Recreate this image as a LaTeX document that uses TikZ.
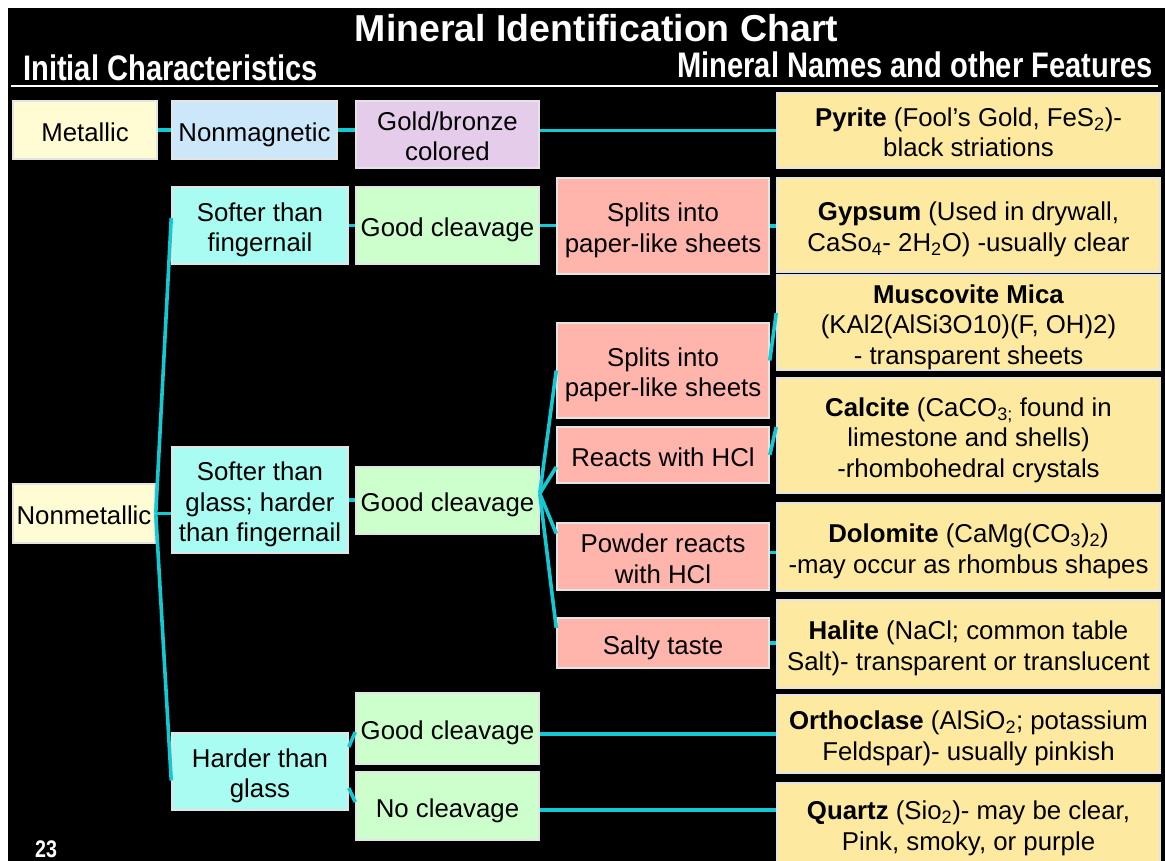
\documentclass[tikz,border=0pt]{standalone}
\usepackage{fontspec}
\setmainfont{Liberation Sans}
\newfontfamily\hdrfont{Liberation Sans}[FakeStretch=0.82]
\definecolor{cMetal}{HTML}{FFFBD2}
\definecolor{cBlue}{HTML}{CCE6FA}
\definecolor{cPurple}{HTML}{E6CCEB}
\definecolor{cCyan}{HTML}{A8FCF2}
\definecolor{cGreen}{HTML}{CCFFCC}
\definecolor{cPink}{HTML}{FFB4AC}
\definecolor{cGold}{HTML}{FDEAA0}
\definecolor{cLine}{HTML}{12CAD4}
\definecolor{cEdge}{HTML}{E4E4E4}
\newcommand\topstrut{\rule{0pt}{27.5pt}}
\newcommand\botstrut{\rule[-5pt]{0pt}{5pt}}
\begin{document}
\begin{tikzpicture}[x=1pt,y=-1pt,
  bx/.style={draw=cEdge, line width=1.5pt, inner sep=0pt, align=center, text=black,
     font=\fontsize{25.8}{30.5}\selectfont},
  conn/.style={draw=cLine, line width=3.6pt},
  hdr/.style={text=white, inner sep=0pt, font=\hdrfont\bfseries\fontsize{35.5}{36}\selectfont}]
\useasboundingbox (0,0) rectangle (1165,861);
\clip (0,0) rectangle (1165,861);
\fill[white] (0,0) rectangle (1165,861);
\fill[black] (8,8) rectangle (1165,861);
% titles
\node[text=white, inner sep=0pt, anchor=base, font=\bfseries\fontsize{37.5}{40}\selectfont] (title) at (596.5,42) {Mineral Identification Chart};
\node[hdr, anchor=base west] (hleft) at (23,81) {Initial Characteristics};
\node[hdr, anchor=base east] (hright) at (1153,78) {Mineral Names and other Features};
\draw[white, line width=2.5pt] (11,86) -- (1158,86);
\node[text=white, inner sep=0pt, anchor=base west, font=\hdrfont\bfseries\fontsize{24}{24}\selectfont] (pg) at (35,857) {23};
% column 1
\node[bx, fill=cMetal, minimum width=144pt, minimum height=58pt] (met) at (85,130) {\topstrut Metallic\botstrut};
\node[bx, fill=cMetal, minimum width=142pt, minimum height=59pt] (nmet) at (84,513.5) {\topstrut Nonmetallic\botstrut};
% column 2
\node[bx, fill=cBlue, minimum width=165pt, minimum height=58pt] (nmag) at (254.5,130) {\topstrut Nonmagnetic\botstrut};
\node[bx, fill=cCyan, minimum width=176pt, minimum height=77pt] (snail) at (260,225.5) {\topstrut Softer than\\fingernail\botstrut};
\node[bx, fill=cCyan, minimum width=176pt, minimum height=106pt] (sglass) at (260,500) {\topstrut Softer than\\glass; harder\\than fingernail\botstrut};
\node[bx, fill=cCyan, minimum width=176pt, minimum height=77pt] (hard) at (260,771.5) {\topstrut Harder than\\glass\botstrut};
% column 3
\node[bx, fill=cPurple, minimum width=183pt, minimum height=67pt] (gold) at (447.5,134.5) {\topstrut Gold/bronze\\colored\botstrut};
\node[bx, fill=cGreen, minimum width=183pt, minimum height=77pt] (gc1) at (447.5,225.5) {\topstrut Good cleavage\botstrut};
\node[bx, fill=cGreen, minimum width=183pt, minimum height=67pt] (gc2) at (447.5,500.5) {\topstrut Good cleavage\botstrut};
\node[bx, fill=cGreen, minimum width=183pt, minimum height=71pt] (gc3) at (447.5,728.5) {\topstrut Good cleavage\botstrut};
\node[bx, fill=cGreen, minimum width=183pt, minimum height=68pt] (noc) at (447.5,806) {\topstrut No cleavage\botstrut};
% column 4
\node[bx, fill=cPink, minimum width=212pt, minimum height=96pt] (sp1) at (663,226) {\topstrut Splits into\\paper-like sheets\botstrut};
\node[bx, fill=cPink, minimum width=212pt, minimum height=95pt] (sp2) at (663,370.5) {\topstrut Splits into\\paper-like sheets\botstrut};
\node[bx, fill=cPink, minimum width=212pt, minimum height=56pt] (rea) at (663,455) {\topstrut Reacts with HCl\botstrut};
\node[bx, fill=cPink, minimum width=212pt, minimum height=67pt] (pow) at (663,556.5) {\topstrut Powder reacts\\with HCl\botstrut};
\node[bx, fill=cPink, minimum width=212pt, minimum height=50pt] (salt) at (663,643) {\topstrut Salty taste\botstrut};
% column 5
\node[bx, fill=cGold, minimum width=383pt, minimum height=75pt] (pyr) at (968.5,130.5) {\topstrut\textbf{Pyrite} (Fool’s Gold, FeS\textsubscript{2})-\\black striations\botstrut};
\node[bx, fill=cGold, minimum width=383pt, minimum height=94pt] (gyp) at (968.5,225) {\topstrut\textbf{Gypsum} (Used in drywall,\\CaSo\textsubscript{4}- 2H\textsubscript{2}O) -usually clear\botstrut};
\node[bx, fill=cGold, minimum width=383pt, minimum height=95pt] (mus) at (968.5,322.5) {\topstrut\textbf{Muscovite Mica}\\(KAl2(AlSi3O10)(F, OH)2)\\- transparent sheets\botstrut};
\node[bx, fill=cGold, minimum width=383pt, minimum height=115pt] (cal) at (968.5,435.5) {\topstrut\textbf{Calcite} (CaCO\textsubscript{3;} found in\\limestone and shells)\\-rhombohedral crystals\botstrut};
\node[bx, fill=cGold, minimum width=383pt, minimum height=88pt] (dol) at (968.5,547) {\topstrut\textbf{Dolomite} (CaMg(CO\textsubscript{3})\textsubscript{2})\\-may occur as rhombus shapes\botstrut};
\node[bx, fill=cGold, minimum width=383pt, minimum height=88pt] (hal) at (968.5,644) {\topstrut\textbf{Halite} (NaCl; common table\\Salt)- transparent or translucent\botstrut};
\node[bx, fill=cGold, minimum width=383pt, minimum height=78pt] (ort) at (968.5,734) {\topstrut\textbf{Orthoclase} (AlSiO\textsubscript{2}; potassium\\Feldspar)- usually pinkish\botstrut};
\node[bx, fill=cGold, minimum width=383pt, minimum height=82pt] (qtz) at (968.5,824) {\topstrut\textbf{Quartz} (Sio\textsubscript{2})- may be clear,\\Pink, smoky, or purple\botstrut};
% connectors
\coordinate (hub) at ([yshift=7pt]gc2.east);
\draw[conn] (met.east) -- (nmag.west);
\draw[conn] (nmag.east) -- (nmag.east -| gold.west);
\draw[conn] (pyr.west -| gold.east) -- (pyr.west);
\draw[conn] (nmet.east) -- ([yshift=7.5pt]snail.west);
\draw[conn] (nmet.east) -- (nmet.east -| sglass.west);
\draw[conn] (nmet.east) -- ([yshift=-9pt]hard.west);
\draw[conn] (snail.east) -- (gc1.west);
\draw[conn] (gc1.east) -- (gc1.east -| sp1.west);
\draw[conn] (sp1.east) -- (sp1.east -| gyp.west);
\draw[conn] (sglass.east) -- (sglass.east -| gc2.west);
\draw[conn] (hub) -- (sp2.west);
\draw[conn] (hub) -- ([yshift=-12pt]rea.west);
\draw[conn] (hub) -- ([yshift=23pt]pow.west);
\draw[conn] (hub) -- ([yshift=15pt]salt.west);
\draw[conn] ([yshift=10pt]sp2.east) -- ([yshift=9.5pt]mus.west);
\draw[conn] (rea.east) -- ([yshift=8.5pt]cal.west);
\draw[conn] ([yshift=4pt]pow.east) -- ([yshift=4pt]pow.east -| dol.west);
\draw[conn] (salt.east) -- (salt.east -| hal.west);
\draw[conn] ([yshift=24.5pt]hard.east) -- ([yshift=-3.5pt]gc3.west);
\draw[conn] ([yshift=-16.5pt]hard.east) -- ([yshift=4pt]noc.west);
\draw[conn] (ort.west -| gc3.east) -- (ort.west);
\draw[conn] ([yshift=-4pt]noc.east) -- ([yshift=-4pt]noc.east -| qtz.west);
\end{tikzpicture}
\end{document}
